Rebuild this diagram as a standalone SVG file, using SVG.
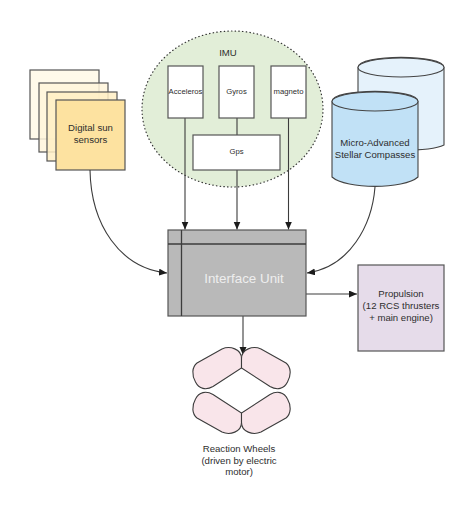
<svg xmlns="http://www.w3.org/2000/svg" xmlns:xlink="http://www.w3.org/1999/xlink" width="474" height="513" viewBox="0 0 474 513">
  <style>
    text { font-family: "Liberation Sans", Arial, sans-serif; font-size: 9.6px; fill: #2e2e2e; text-anchor: middle; }
    .small { font-size: 7.7px; }
    .box { stroke: #555; stroke-width: 1.2; }
    .wire { fill: none; stroke: #3c3c3c; stroke-width: 1.1; }
    .thick { stroke-width: 1.3; }
    .cyl { stroke: #444; stroke-width: 1.1; }
    .wheel { fill: #f9e5ea; stroke: #3c3c3c; stroke-width: 1.1; }
  </style>
  <defs>
    <marker id="arrow" markerUnits="userSpaceOnUse" markerWidth="9" markerHeight="8" refX="8" refY="3.500" orient="auto">
      <path d="M0,0 L8,3.500 L0,7 Z" fill="#1c1c1c"/>
    </marker>
    <path id="wheelShape" class="wheel" d="M197,363 L222,349 C230,345.500 241.500,349 241.500,358.500 L241.500,368 L213,386.500 C206,390.500 199,389 195.500,382 C191.500,375 192,367 197,363 Z"/>
  </defs>
  <rect width="474" height="513" fill="#fff"/>

  <g id="sun-sensors">
    <rect class="box" x="30" y="70" width="69" height="69" fill="#fffaea"/>
    <rect class="box" x="39" y="83" width="69" height="69" fill="#fff5da" fill-opacity="0.85"/>
    <rect class="box" x="47" y="92" width="70" height="69" fill="#ffeec4" fill-opacity="0.85"/>
    <rect class="box" x="56" y="100" width="69" height="70" fill="#fde2a0" stroke-width="1.3"/>
    <text x="90.500" y="131">Digital sun</text>
    <text x="90.500" y="142.500">sensors</text>
  </g>

  <g id="imu">
    <ellipse cx="232.500" cy="109" rx="90.500" ry="78" fill="#e2eed8" stroke="#333" stroke-width="1.2" stroke-linecap="round" stroke-dasharray="0.5 3.2"/>
    <text x="228" y="56">IMU</text>
  </g>

  <g id="compass-back">
    <path class="cyl" fill="#e5f2fb" d="M358,67.500 V145 C372,152 430,152 444,145 V67.500 C444,54 358,54 358,67.500 Z"/>
    <ellipse class="cyl" cx="401" cy="67.500" rx="43" ry="9.500" fill="#e5f2fb"/>
  </g>
  <g id="compass-front">
    <path class="cyl" fill="#c1e1f6" stroke-width="1.4" d="M332,101.500 V177 C346,189.500 404,189.500 418,177 V101.500 C418,88 332,88 332,101.500 Z"/>
    <ellipse class="cyl" cx="375" cy="101.500" rx="43" ry="9.500" fill="#c1e1f6"/>
    <text x="375" y="146">Micro-Advanced</text>
    <text x="375" y="157.500">Stellar Compasses</text>
  </g>

  <g id="connectors">
    <path class="wire" d="M90,170 C91,225 120,268 167,273" marker-end="url(#arrow)"/>
    <path class="wire" d="M375,187 C372,225 350,267 307,273" marker-end="url(#arrow)"/>
    <path class="wire" d="M185,118 V229.500" marker-end="url(#arrow)"/>
    <path class="wire" d="M237,118 V135 M237,170 V229.500" marker-end="url(#arrow)"/>
    <path class="wire" d="M288.500,118 V229.500" marker-end="url(#arrow)"/>
    <path class="wire" d="M306,294 H357" marker-end="url(#arrow)"/>
    <path class="wire" d="M243,316 V355" marker-end="url(#arrow)"/>
  </g>

  <g id="acceleros">
    <rect class="box" x="168" y="66" width="35" height="52" fill="#fff"/>
    <text class="small" x="185.500" y="94">Acceleros</text>
  </g>
  <g id="gyros">
    <rect class="box" x="219" y="66" width="35" height="52" fill="#fff"/>
    <text class="small" x="236.500" y="94">Gyros</text>
  </g>
  <g id="magneto">
    <rect class="box" x="271" y="66" width="35" height="52" fill="#fff"/>
    <text class="small" x="288.500" y="94">magneto</text>
  </g>
  <g id="gps">
    <rect class="box" x="193" y="135" width="87" height="35" fill="#fff"/>
    <text class="small" x="236.500" y="154">Gps</text>
  </g>

  <g id="interface-unit">
    <rect class="box" x="168" y="230" width="138" height="86" fill="#b9b9b9"/>
    <path class="wire thick" d="M181.500,230 V316 M168,244 H306"/>
    <text x="244" y="283" style="font-size:13.400px;fill:#eee">Interface Unit</text>
  </g>

  <g id="propulsion">
    <rect class="box" x="358" y="265" width="86" height="86" fill="#e6dcea"/>
    <text x="401" y="297">Propulsion</text>
    <text x="401" y="309">(12 RCS thrusters</text>
    <text x="401" y="321">+ main engine)</text>
  </g>

  <g id="reaction-wheels">
    <use xlink:href="#wheelShape" href="#wheelShape"/>
    <use xlink:href="#wheelShape" href="#wheelShape" transform="translate(483,0) scale(-1,1)"/>
    <use xlink:href="#wheelShape" href="#wheelShape" transform="translate(0,781) scale(1,-1)"/>
    <use xlink:href="#wheelShape" href="#wheelShape" transform="translate(483,781) scale(-1,-1)"/>
    <text x="239" y="452">Reaction Wheels</text>
    <text x="239" y="463.500">(driven by electric</text>
    <text x="239" y="475">motor)</text>
  </g>
</svg>
